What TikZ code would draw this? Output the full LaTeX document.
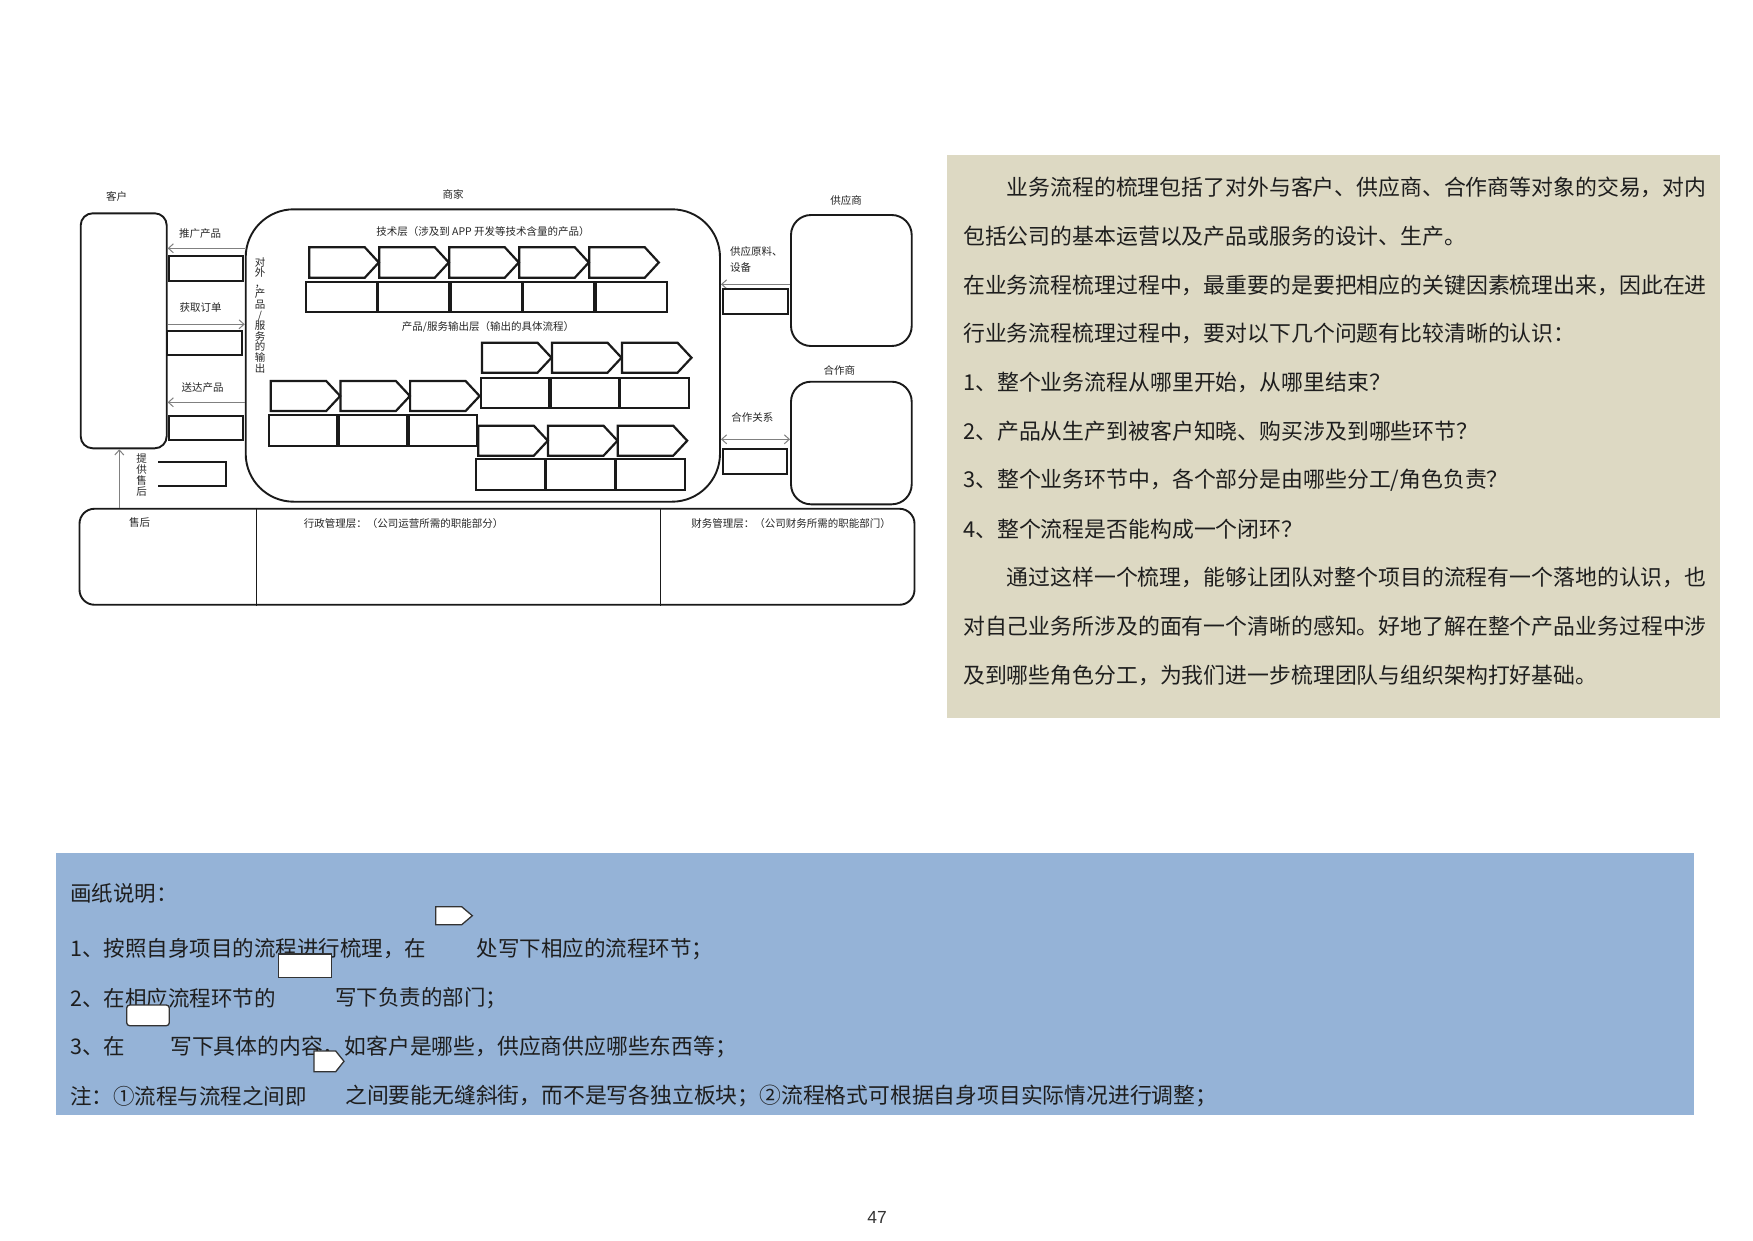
\documentclass[tikz,border=0pt]{standalone}
\usepackage{fontspec}
\setmainfont{Noto Sans CJK SC}
\newfontfamily\liber{Liberation Sans}
\usetikzlibrary{arrows.meta}
\definecolor{beigebg}{HTML}{DDD9C3}
\definecolor{bluebg}{HTML}{95B3D7}
\definecolor{inkc}{HTML}{1E1E1E}
\definecolor{linec}{HTML}{1A1A1A}
\definecolor{arrc}{HTML}{808080}
\tikzset{
  x=1pt, y=-1pt,
  bigbox/.style={draw=linec, line width=1.9pt, inner sep=0pt, fill=white},
  shp/.style={draw=linec, line width=2.2pt, line join=miter},
  arr/.style={draw=arrc, line width=1pt, -{Straight Barb[length=5pt,width=9pt]}},
  darr/.style={draw=arrc, line width=1pt, {Straight Barb[length=5pt,width=9pt]}-{Straight Barb[length=5pt,width=9pt]}},
  lbl/.style={inner sep=0pt, text=black!85, font=\fontsize{10.5}{11}\selectfont},
  body/.style={inner sep=0pt, anchor=west, text=inkc, font=\fontsize{21.87}{24}\selectfont},
  note/.style={inner sep=0pt, anchor=west, text=inkc, font=\fontsize{21.5}{24}\selectfont},
  notew/.style={note, font=\fontsize{21.8}{24}\selectfont},
  wshape/.style={draw=black!80, fill=white, line width=1.3pt},
}
\begin{document}
\begin{tikzpicture}
\useasboundingbox (0,0) rectangle (1753,1240);
\fill[white] (0,0) rectangle (1753,1240);

% ---------------- diagram ----------------
\node[lbl] (tcust) at (116.7,196) {客户};
\node[lbl] (tmerch) at (453,194) {商家};
\node[lbl] (tsup) at (846,200) {供应商};
\node[lbl] (tpart) at (839.3,370.7) {合作商};

\node[bigbox, rounded corners=12pt, minimum width=86pt, minimum height=235pt] (cust) at (123.7,330.8) {};
\node[bigbox, rounded corners=48pt, minimum width=474.3pt, minimum height=292.4pt] (merch) at (482.85,355.5) {};
\node[bigbox, rounded corners=20pt, minimum width=120.7pt, minimum height=131pt] (sup) at (851.35,280.5) {};
\node[bigbox, rounded corners=20pt, minimum width=120.7pt, minimum height=122.6pt] (part) at (851.35,443) {};
\node[bigbox, rounded corners=15pt, minimum width=835pt, minimum height=96pt] (bot) at (497,556.75) {};

\node[lbl] (ttech) at (483,232) {技术层（涉及到 APP 开发等技术含量的产品）};
\node[lbl] (tout) at (488,327) {产品/服务输出层（输出的具体流程）};

% top row
\foreach \i in {0,...,4} {
  \draw[shp] ({309.3+70*\i},247.3) -- ++(55.5,0) -- ++(14,15.2) -- ++(-14,15.2) -- ++(-55.5,0) -- cycle;
  \draw[shp] ({305.7+72.5*\i},281.7) rectangle ++(71.2,30.6);
}
% upper right
\foreach \i in {0,...,2} {
  \draw[shp] ({482+70*\i},342.7) -- ++(55.5,0) -- ++(14,15) -- ++(-14,15) -- ++(-55.5,0) -- cycle;
  \draw[shp] ({480.7+69.8*\i},377.7) rectangle ++(68.6,30);
}
% left
\foreach \i in {0,...,2} {
  \draw[shp] ({270.7+69.7*\i},381) -- ++(55.5,0) -- ++(14,15) -- ++(-14,15) -- ++(-55.5,0) -- cycle;
  \draw[shp] ({268.7+69.9*\i},415) rectangle ++(68.7,31);
}
% lower right
\foreach \i in {0,...,2} {
  \draw[shp] ({478.3+69.7*\i},425.7) -- ++(55.5,0) -- ++(14,15) -- ++(-14,15) -- ++(-55.5,0) -- cycle;
  \draw[shp] ({476+70*\i},459.3) rectangle ++(68.8,31);
}

% vertical texts
\node[lbl, align=center, font=\fontsize{10.5}{10.6}\selectfont] (tvert) at (260,315) {对\\外\\，\\产\\品\\/\\服\\务\\的\\输\\出};
\node[lbl, align=center, font=\fontsize{10.5}{11}\selectfont] (tafter) at (141.7,475) {提\\供\\售\\后};

% customer side
\coordinate (ya) at (0,248.3);
\coordinate (yb) at (0,324.3);
\coordinate (yc) at (0,402.3);
\coordinate (yd) at (0,284.3);
\coordinate (ye) at (0,439.3);
\coordinate (xv) at (119.3,0);
\node[lbl] (tpromo) at (200,234) {推广产品};
\node[lbl] (torder) at (200.7,307.7) {获取订单};
\node[lbl] (tdeliv) at (202.7,387.3) {送达产品};
\draw[arr] (merch.west |- ya) -- (cust.east |- ya);
\draw[arr] (cust.east |- yb) -- (merch.west |- yb);
\draw[arr] (merch.west |- yc) -- (cust.east |- yc);
\draw[arr] (bot.north -| xv) -- (cust.south -| xv);
\draw[shp] (169.3,256) rectangle (242.7,280.7);
\draw[shp] (167.3,330.7) rectangle (241.7,355);
\draw[shp] (169.3,415.7) rectangle (242.7,440);
\draw[shp] (158.3,461.7) -- (225.7,461.7) -- (225.7,485.7) -- (158.3,485.7);

% supplier / partner side
\node[lbl, anchor=west] (tsup1) at (730,251) {供应原料、};
\node[lbl, anchor=west] (tsup2) at (730,267.3) {设备};
\node[lbl] (tcoop) at (752.3,417.7) {合作关系};
\draw[arr] (sup.west |- yd) -- (merch.east |- yd);
\draw[darr] (merch.east |- ye) -- (part.west |- ye);
\draw[shp] (723.3,289) rectangle (788.3,314);
\draw[shp] (722.7,449) rectangle (787.3,474);

% bottom band
\coordinate (dv1) at (256,0);
\coordinate (dv2) at (660,0);
\draw[line width=0.9pt, draw=linec] (bot.north -| dv1) -- (bot.south -| dv1);
\draw[line width=0.9pt, draw=linec] (bot.north -| dv2) -- (bot.south -| dv2);
\node[lbl] (tsh) at (139.5,522) {售后};
\node[lbl] (tadm) at (403.5,523) {行政管理层：（公司运营所需的职能部分）};
\node[lbl] (tfin) at (791,523) {财务管理层：（公司财务所需的职能部门）};

% ---------------- beige text box ----------------
\fill[beigebg] (947.3,155) rectangle (1720,717.7);
\node[body] (b1) at (1006.5,187.5) {业务流程的梳理包括了对外与客户、供应商、合作商等对象的交易，对内};
\node[body] (b2) at (963,236.25) {包括公司的基本运营以及产品或服务的设计、生产。};
\node[body] (b3) at (963,285) {在业务流程梳理过程中，最重要的是要把相应的关键因素梳理出来，因此在进};
\node[body] (b4) at (963,333.75) {行业务流程梳理过程中，要对以下几个问题有比较清晰的认识：};
\node[body] (b5) at (963,382.5) {1、整个业务流程从哪里开始，从哪里结束？};
\node[body] (b6) at (963,431.25) {2、产品从生产到被客户知晓、购买涉及到哪些环节？};
\node[body] (b7) at (963,480) {3、整个业务环节中，各个部分是由哪些分工/角色负责？};
\node[body] (b8) at (963,528.75) {4、整个流程是否能构成一个闭环？};
\node[body] (b9) at (1006.5,577.5) {通过这样一个梳理，能够让团队对整个项目的流程有一个落地的认识，也};
\node[body] (b10) at (963,626.25) {对自己业务所涉及的面有一个清晰的感知。好地了解在整个产品业务过程中涉};
\node[body] (b11) at (963,675) {及到哪些角色分工，为我们进一步梳理团队与组织架构打好基础。};

% ---------------- blue note box ----------------
\fill[bluebg] (55.5,852.7) rectangle (1694,1115);
\node[note] (n0) at (70,893) {画纸说明：};
\node[note] (n1a) at (70,949) {1、按照自身项目的流程进行梳理，在};
\node[note] (n1b) at (476.7,949) {处写下相应的流程环节；};
\node[note] (n2a) at (70,998) {2、在相应流程环节的};
\node[note] (n2b) at (335,998) {写下负责的部门；};
\node[note] (n3a) at (70,1046.5) {3、在};
\node[notew] (n3b) at (170,1046.5) {写下具体的内容，如客户是哪些，供应商供应哪些东西等；};
\node[note] (n4a) at (70,1096) {注：①流程与流程之间即};
\node[notew] (n4b) at (345,1096) {之间要能无缝斜街，而不是写各独立板块；②流程格式可根据自身项目实际情况进行调整；};

\draw[wshape] (435.7,906.7) -- (461.7,906.7) -- (472.3,915.7) -- (461.7,924.7) -- (435.7,924.7) -- cycle;
\draw[wshape] (278.3,954) rectangle (331.7,977.7);
\draw[wshape, rounded corners=3pt] (126.7,1005) rectangle (169.3,1025.7);
\draw[wshape] (314,1051) -- (335.7,1051) -- (344,1061.3) -- (335.7,1071.7) -- (314,1071.7) -- cycle;

% page number
\node[inner sep=0pt, text=black!80, font=\liber\fontsize{17.5}{20}\selectfont] (pg) at (877,1217) {47};
\end{tikzpicture}
\end{document}
